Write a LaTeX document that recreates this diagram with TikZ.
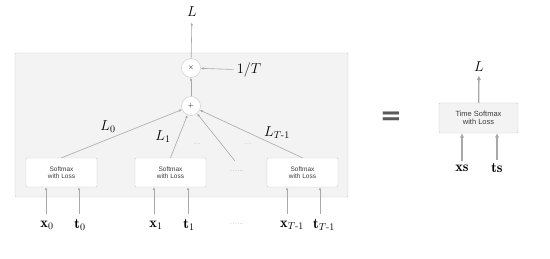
\documentclass[tikz,border=0pt]{standalone}
\usepackage{amsmath}
\usepackage{fontspec}
\newfontfamily\boxfont{Liberation Sans}
\newfontfamily\eqfont{DejaVu Sans}
\usetikzlibrary{arrows.meta}
\definecolor{linegray}{RGB}{168,168,168}
\definecolor{boxgray}{RGB}{200,200,200}
\definecolor{bggray}{RGB}{243,243,243}
\definecolor{textgray}{RGB}{60,60,60}
\begin{document}
\begin{tikzpicture}[x=1pt,y=-1pt,
    line/.style={draw=linegray, line width=0.6pt, -{Latex[length=3pt,width=2.6pt]}},
    thick line/.style={draw=linegray, line width=1.3pt, -{Latex[length=4.5pt,width=4.5pt]}},
    op/.style={circle, draw=boxgray, fill=white, minimum size=19pt, inner sep=0pt, font=\scriptsize},
    lossbox/.style={rectangle, draw=boxgray, fill=white, rounded corners=1pt, minimum width=71pt,
      minimum height=29pt, align=center, font=\boxfont\fontsize{6.5}{7.5}\selectfont, text=textgray},
    dots/.style={font=\fontsize{8}{8}\selectfont, text=linegray},
    lbl/.style={font=\Large}]
        \useasboundingbox (0,0) rectangle (550,259);
        \draw [draw=boxgray, fill=bggray, rounded corners=1pt] (15,53) rectangle (348,197);
        \node [op] (mul) at (191,68) {$\times$};
        \node [op] (add) at (191,106) {$+$};
        \node [lbl] (Lout) at (192,12) {$L$};
        \node [lbl] (invT) at (249,70) {$1/T$};
        \node [lossbox] (sm0) at (61.5,172.5) {Softmax\\with Loss};
        \node [lossbox] (sm1) at (170.5,172.5) {Softmax\\with Loss};
        \node [lossbox] (sm2) at (302.5,172.5) {Softmax\\with Loss};
        \node [dots] (mid) at (237,171) {......};
        \coordinate (dotend) at (235,161);
        \draw [line, shorten >=2pt] (mul) -- (Lout);
        \draw [line] (invT) -- (mul);
        \draw [line] (add) -- (mul);
        \draw [line] (sm0.north) -- (add);
        \draw [line] (sm1.north) -- (add);
        \draw [line] (dotend) -- (add);
        \draw [line] (sm2.north) -- (add);
        \node [lbl] (L0) at (108,127) {$L_0$};
        \node [lbl] (L1) at (163,137) {$L_1$};
        \node [lbl] (LT) at (277,133) {$L_{T\text{-}1}$};
        \node [dots] (dA) at (197,144) {...};
        \node [dots] (dB) at (248,144) {...};
        \node [lbl] (x0) at (47,225) {$\mathbf{x}_0$};
        \node [lbl] (t0) at (80,225) {$\mathbf{t}_0$};
        \node [lbl] (x1) at (156,225) {$\mathbf{x}_1$};
        \node [lbl] (t1) at (189,225) {$\mathbf{t}_1$};
        \node [dots] (dC) at (237,224) {......};
        \node [lbl] (xT) at (292,225) {$\mathbf{x}_{T\text{-}1}$};
        \node [lbl] (tT) at (324,225) {$\mathbf{t}_{T\text{-}1}$};
        \coordinate (inx0) at (46,214);
        \coordinate (int0) at (79,214);
        \coordinate (inx1) at (154,214);
        \coordinate (int1) at (188,214);
        \coordinate (inxT) at (287,214);
        \coordinate (intT) at (320,214);
        \draw [line] (inx0) -- (inx0 |- sm0.south);
        \draw [line] (int0) -- (int0 |- sm0.south);
        \draw [line] (inx1) -- (inx1 |- sm1.south);
        \draw [line] (int1) -- (int1 |- sm1.south);
        \draw [line] (inxT) -- (inxT |- sm2.south);
        \draw [line] (intT) -- (intT |- sm2.south);
        \node [font=\eqfont\bfseries\fontsize{26}{26}\selectfont, text=textgray!85] (equal) at (391,118) {=};
        \node [lossbox, fill=bggray, minimum width=79pt, minimum height=30pt,
          font=\boxfont\fontsize{7.5}{8.5}\selectfont] (tsm) at (478.5,118) {Time Softmax\\with Loss};
        \node [lbl] (L2) at (479,67) {$L$};
        \node [lbl] (xs) at (462,168) {$\mathbf{xs}$};
        \node [lbl] (ts) at (497,168) {$\mathbf{ts}$};
        \draw [thick line] (tsm) -- (L2);
        \draw [thick line] (xs) -- (xs |- tsm.south);
        \draw [thick line] (ts) -- (ts |- tsm.south);
\end{tikzpicture}
\end{document}
